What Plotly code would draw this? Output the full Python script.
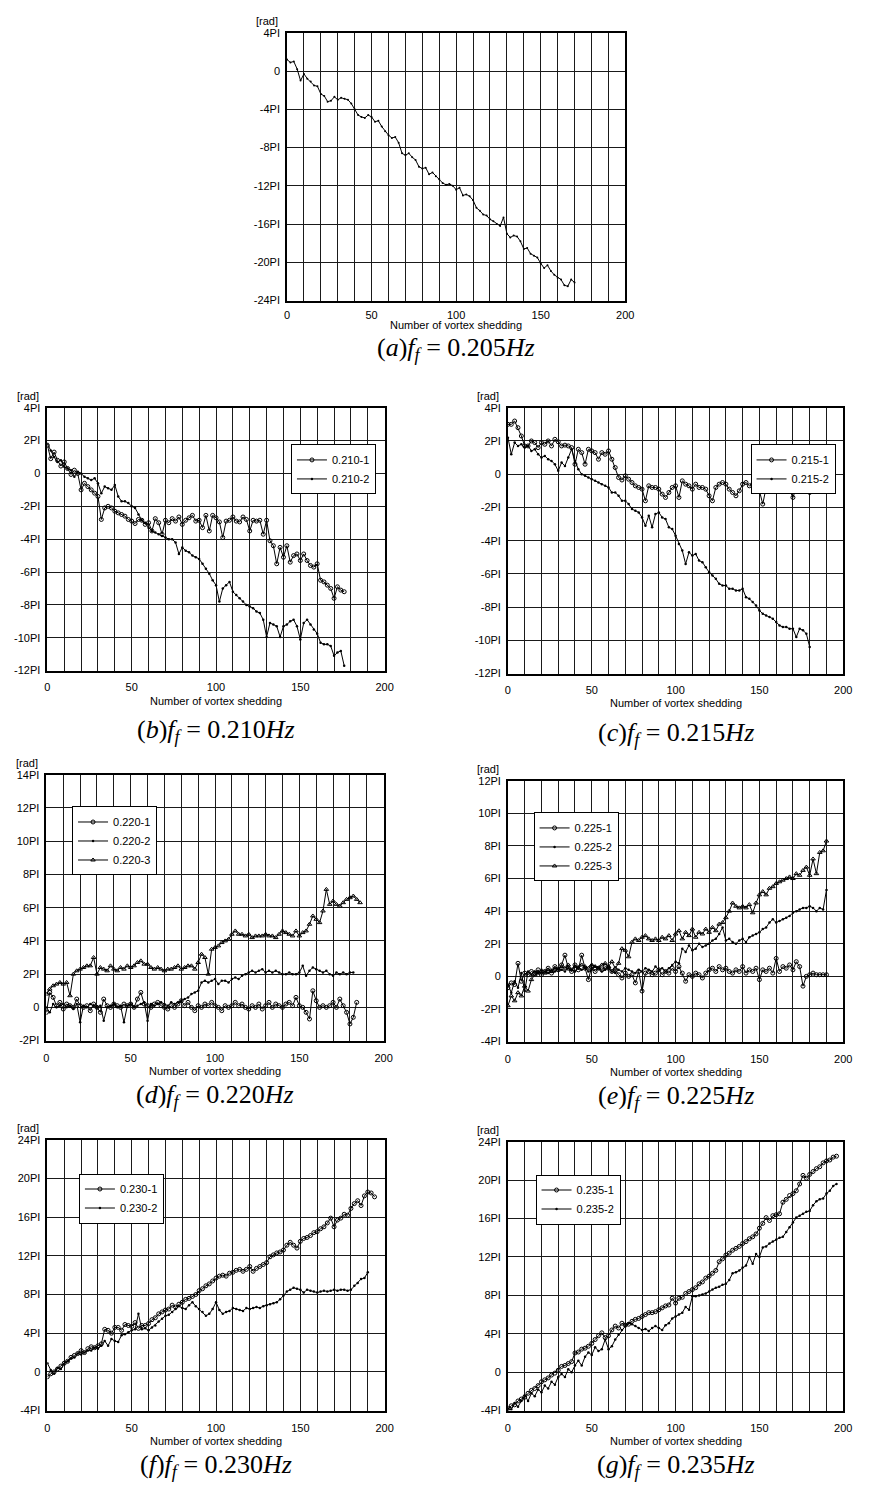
import plotly.graph_objects as go

W, H = 869, 1488

# ---------------- data (phase in units of PI, one value every 2 shedding events) ----------------
STEP = 2

a_y = [1.2, 0.9, 1.0, 0.2, -1.0, -0.3, -0.8, -1.1, -1.5, -1.6, -2.4, -2.6, -3.2, -3.1, -2.7, -3.0,
       -2.8, -2.9, -3.0, -3.4, -4.0, -4.6, -4.8, -4.9, -4.6, -4.8, -5.3, -5.2, -5.8, -6.3, -6.7, -7.0,
       -6.9, -7.5, -8.6, -8.8, -8.6, -9.0, -9.3, -10.0, -10.2, -10.1, -10.8, -10.6, -11.0, -11.3, -11.7,
       -11.9, -11.8, -12.0, -12.4, -12.2, -13.0, -12.9, -13.1, -13.5, -14.3, -14.6, -15.0, -15.1, -15.5,
       -15.7, -16.0, -16.2, -15.3, -17.0, -17.4, -17.2, -17.3, -17.8, -18.6, -18.5, -19.1, -19.3, -19.5,
       -20.1, -20.6, -20.3, -20.9, -21.3, -21.6, -21.8, -22.4, -22.5, -21.8, -22.1]

b1_y = [1.7, 0.9, 1.3, 0.8, 0.45, 0.7, 0.3, -0.06, 0.2, 0.0, -1.0, -0.6, -0.8, -1.0, -1.2, -1.4,
        -2.8, -2.1, -2.0, -2.1, -2.3, -2.4, -2.5, -2.6, -2.8, -2.9, -3.05, -2.8, -2.85, -3.1, -3.0,
        -3.5, -2.75, -3.0, -3.7, -2.85, -3.0, -2.75, -2.9, -2.65, -3.1, -2.85, -2.7, -2.55, -2.9, -2.85,
        -3.3, -2.55, -3.5, -2.55, -2.7, -2.95, -3.9, -2.9, -2.85, -2.65, -2.9, -2.95, -2.65, -2.8, -3.5,
        -2.85, -2.9, -2.85, -3.7, -2.85, -4.1, -4.4, -5.5, -4.5, -5.1, -4.4, -5.4, -5.0, -4.9, -5.3,
        -4.9, -5.3, -5.6, -5.7, -5.5, -6.5, -6.6, -6.8, -7.0, -7.6, -6.9, -7.1, -7.2]
b2_y = [1.8, 1.4, 1.0, 0.7, 0.8, 0.4, 0.3, 0.2, -0.2, 0.1, 0.0, -0.2, -0.3, -0.4, -0.3, -0.6,
        -1.2, -0.8, -0.9, -1.0, -0.7, -1.4, -1.7, -1.7, -1.8, -2.0, -2.1, -2.5, -2.85, -3.0, -3.3,
        -3.5, -3.6, -3.7, -3.8, -3.9, -4.0, -4.0, -4.2, -4.9, -4.5, -4.7, -4.8, -5.0, -5.1, -5.2, -5.5,
        -5.8, -6.1, -6.5, -6.8, -7.8, -7.0, -6.8, -6.6, -7.2, -7.4, -7.6, -7.8, -8.0, -8.1, -8.2, -8.4,
        -8.5, -8.9, -9.95, -9.1, -9.2, -9.3, -9.95, -9.3, -9.2, -9.0, -8.9, -9.3, -10.1, -9.1, -8.9,
        -9.2, -9.5, -9.75, -10.3, -10.4, -10.4, -10.5, -11.1, -10.9, -10.8, -11.7]

c1_y = [3.0, 3.0, 3.2, 2.8, 2.3, 1.7, 1.7, 2.0, 1.9, 1.6, 1.9, 1.8, 2.0, 1.7, 2.1, 1.95, 1.7, 1.75,
        1.7, 1.6, 0.6, 1.5, 1.3, 0.6, 1.5, 1.4, 1.3, 0.9, 1.3, 1.2, 1.4, 0.9, 0.4, -0.2, -0.35, -0.1,
        -0.3, -0.5, -0.7, -0.8, -0.9, -1.6, -0.7, -0.8, -0.8, -0.9, -1.2, -1.4, -1.1, -0.8, -0.7, -1.4,
        -0.4, -0.6, -0.7, -0.9, -0.6, -0.8, -0.8, -0.9, -1.3, -1.6, -0.8, -0.6, -0.5, -0.6, -0.9, -1.1,
        -1.3, -1.0, -0.6, -0.5, -0.7, -0.6, -0.65, -1.0, -1.8, -0.8, -0.9, -0.6, -0.7, -0.6, -0.7, -0.5,
        -1.0, -1.4, -0.8, -0.6, -0.7, -0.6, -1.1]
c2_y = [2.2, 1.2, 1.9, 1.7, 1.8, 1.6, 1.7, 1.4, 1.5, 1.2, 1.0, 1.1, 0.9, 0.8, 0.6, 0.2, 0.7, 0.5,
        1.0, 1.5, 0.8, 0.3, 0.0, -0.1, -0.2, -0.3, -0.4, -0.5, -0.6, -0.7, -0.8, -1.1, -1.1, -1.3,
        -1.6, -1.6, -1.8, -2.1, -2.2, -2.3, -2.6, -3.1, -2.5, -3.2, -2.4, -2.3, -2.6, -2.7, -3.2, -3.3,
        -3.7, -4.2, -4.6, -5.4, -4.7, -4.9, -4.8, -5.2, -5.3, -5.6, -5.9, -6.1, -6.3, -6.6, -6.7, -6.7,
        -6.9, -6.9, -7.0, -7.0, -6.9, -7.4, -7.5, -7.7, -7.9, -8.2, -8.4, -8.5, -8.6, -8.7, -8.9, -9.1,
        -9.2, -9.2, -9.3, -9.3, -9.8, -9.3, -9.4, -9.6, -10.4]

d1_y = [-0.3, 0.9, 0.6, 0.1, 0.3, -0.1, 0.2, 0.1, 0.0, 0.5, 0.1, 0.0, 0.1, -0.2, 0.2, 0.0, -0.3,
        0.5, 0.1, 0.0, 0.2, 0.1, 0.0, 0.2, 0.1, 0.2, 0.0, 0.5, 0.9, 0.2, 0.1, 0.0, 0.2, 0.3, 0.1, 0.0,
        -0.1, 0.1, 0.0, 0.2, 0.4, 0.1, 0.3, 0.0, -0.2, 0.1, 0.0, 0.2, 0.1, 0.3, 0.1, 0.0, -0.2, 0.1,
        0.0, 0.1, 0.3, 0.1, 0.2, 0.0, -0.1, 0.1, 0.0, 0.2, -0.1, 0.1, 0.3, 0.0, 0.2, 0.1, 0.0, 0.2,
        0.3, 0.1, 0.6, 0.1, 0.0, -0.3, -0.7, 1.0, 0.4, 0.0, 0.1, 0.0, 0.1, 0.3, 0.0, 0.5, 0.1, -0.3,
        -1.0, -0.6, 0.3]
d2_y = [0.0, -0.3, 0.2, 0.0, 0.1, 0.2, 0.0, 0.1, -0.1, 0.2, -0.9, 0.1, 0.0, 0.2, 0.1, 0.0, 0.1,
        -0.8, 0.0, 0.1, 0.2, 0.0, 0.1, -0.9, 0.1, 0.2, 0.0, 0.1, 0.2, 0.3, -0.8, 0.2, 0.1, 0.2, 0.3,
        0.2, 0.1, 0.3, 0.2, 0.3, 0.4, 0.5, 0.6, 0.8, 0.9, 1.0, 1.5, 1.6, 1.5, 1.6, 1.7, 1.4, 1.6, 1.6,
        1.5, 1.7, 1.8, 1.7, 1.9, 2.0, 2.1, 2.2, 2.1, 2.2, 2.3, 2.1, 2.2, 2.1, 2.2, 2.1, 2.0, 2.0, 2.1,
        2.0, 2.0, 2.1, 2.5, 1.9, 2.2, 2.4, 2.3, 2.2, 2.1, 2.2, 2.0, 1.9, 2.1, 2.0, 2.1, 2.0, 2.1, 2.1]
d3_y = [0.8, 1.1, 1.3, 1.4, 1.5, 1.4, 1.5, 0.7, 2.0, 2.2, 2.3, 2.4, 2.5, 2.5, 3.0, 2.0, 2.4, 2.3,
        2.2, 2.5, 2.3, 2.2, 2.4, 2.3, 2.5, 2.4, 2.5, 2.7, 2.8, 2.6, 2.6, 2.4, 2.3, 2.4, 2.3, 2.2, 2.3,
        2.3, 2.4, 2.5, 2.3, 2.4, 2.5, 2.5, 2.3, 2.7, 3.2, 3.0, 2.0, 3.5, 3.6, 3.7, 3.9, 4.0, 4.1, 4.4,
        4.6, 4.4, 4.4, 4.3, 4.4, 4.2, 4.3, 4.3, 4.3, 4.4, 4.3, 4.3, 4.2, 4.4, 4.6, 4.5, 4.4, 4.3, 4.6,
        4.3, 4.5, 4.6, 5.0, 5.5, 5.3, 5.1, 5.8, 7.1, 6.2, 6.4, 6.2, 6.1, 6.3, 6.5, 6.6, 6.7, 6.5, 6.3]

e1_y = [-0.7, -0.4, -0.5, 0.8, -0.3, 0.2, 0.1, 0.3, 0.2, 0.4, 0.1, 0.3, 0.5, 0.2, 0.6, 0.4, 0.7,
        1.3, 0.5, 0.3, 0.7, 0.4, 1.3, 0.5, -0.2, 0.6, 0.3, 0.5, 0.4, 0.6, 0.5, 0.3, 0.4, 0.1, -0.1,
        0.2, 0.0, 0.1, -0.4, 0.3, -0.9, 0.2, 0.3, 0.1, 0.2, 0.4, 0.1, 0.3, 0.2, 0.5, 0.3, 0.6, 0.2,
        -0.3, 0.1, 0.0, 0.2, 0.1, -0.1, 0.2, 0.4, 0.5, 0.3, 0.6, 0.4, 0.5, 0.3, 0.2, 0.4, 0.3, 0.6,
        0.2, 0.4, 0.3, 0.5, -0.2, 0.4, 0.3, 0.5, 0.2, 1.1, 0.3, 0.6, 0.5, 0.7, 0.4, 0.9, 0.6, -0.6,
        0.0, 0.1, 0.2, 0.1, 0.1, 0.1, 0.1]
e2_y = [-0.5, -1.0, -0.3, -0.7, 0.2, -0.9, 0.3, 0.1, 0.3, 0.2, 0.4, 0.3, 0.2, 0.4, 0.3, 0.5, 0.4,
        0.3, 0.5, 0.4, 0.3, 0.6, 0.4, 0.5, 0.3, 0.4, 0.6, 0.5, 0.3, 0.4, 0.5, 0.3, 0.2, 0.4, 0.3, 0.5,
        0.4, 0.3, 0.2, 0.4, 0.3, 0.5, 0.4, 0.3, 0.6, 0.4, 0.5, 0.3, 0.5, 0.7, 0.9, 0.8, 1.7, 1.5, 1.9,
        1.6, 1.7, 2.0, 1.8, 1.9, 2.0, 2.2, 2.3, 2.6, 3.0, 2.2, 2.3, 2.1, 2.0, 2.2, 2.3, 2.1, 2.4, 2.5,
        2.6, 2.7, 2.9, 3.0, 3.3, 3.5, 3.3, 3.4, 3.5, 3.6, 3.7, 3.9, 4.0, 4.1, 4.2, 4.2, 4.3, 4.2, 4.0,
        4.2, 4.1, 5.3]
e3_y = [-1.8, -1.2, -1.5, -1.0, -1.2, -0.6, -0.9, -0.2, 0.1, 0.2, 0.3, 0.2, 0.4, 0.3, 0.5, 0.4,
        0.6, 0.5, 0.7, 0.4, 0.6, 0.5, 0.7, 0.6, 0.5, 0.7, 0.6, 0.5, 0.7, 0.8, 0.6, 0.9, 0.5, 0.8, 1.7,
        1.6, 1.2, 2.1, 2.3, 2.2, 2.4, 2.5, 2.3, 2.2, 2.3, 2.2, 2.4, 2.3, 2.5, 2.2, 2.6, 2.8, 2.3, 2.7,
        2.5, 2.9, 2.4, 2.7, 2.6, 2.9, 2.7, 3.0, 2.8, 3.2, 3.3, 3.6, 4.0, 4.5, 4.3, 4.2, 4.3, 4.2, 4.4,
        3.9, 4.5, 5.0, 5.2, 5.0, 5.4, 5.5, 5.7, 5.8, 5.9, 6.0, 6.1, 6.0, 6.3, 6.2, 6.5, 6.7, 6.2, 7.2,
        6.3, 7.6, 7.7, 8.3]

f1_y = [-0.5, -0.2, 0.0, 0.3, 0.6, 0.9, 1.1, 1.5, 1.7, 1.9, 2.2, 2.0, 2.4, 2.6, 2.5, 2.7, 2.9, 4.4,
        4.3, 4.0, 4.6, 4.6, 4.3, 4.9, 4.8, 4.7, 5.1, 4.5, 4.8, 4.8, 5.0, 5.4, 5.6, 6.0, 6.2, 6.4, 6.5,
        6.9, 6.7, 7.0, 7.2, 7.5, 7.6, 7.8, 8.0, 8.4, 8.6, 8.9, 9.1, 9.4, 9.7, 9.9, 10.0, 9.9, 10.2,
        10.3, 10.5, 10.6, 10.4, 10.6, 10.9, 10.4, 10.7, 10.9, 11.1, 11.3, 11.9, 12.1, 12.3, 12.4, 12.6,
        13.1, 13.4, 13.1, 12.8, 13.5, 13.8, 13.9, 14.1, 14.4, 14.5, 14.8, 15.0, 15.4, 15.9, 15.0, 15.7,
        15.9, 16.3, 16.2, 16.9, 17.4, 17.7, 17.2, 18.2, 18.6, 18.5, 18.1]
f2_y = [0.9, 0.2, -0.2, 0.4, 0.3, 0.85, 1.1, 1.4, 1.5, 1.9, 1.8, 2.0, 2.2, 2.2, 2.5, 2.4, 2.7, 3.2,
        2.7, 3.4, 3.2, 3.1, 3.8, 3.9, 4.1, 4.3, 4.4, 6.0, 4.4, 4.5, 4.3, 4.6, 4.8, 5.2, 5.5, 5.8, 5.9,
        6.2, 6.5, 6.8, 6.6, 6.5, 6.9, 7.2, 6.8, 6.5, 6.2, 5.8, 6.0, 6.5, 7.2, 6.4, 6.0, 6.2, 6.3, 6.6,
        6.5, 6.4, 6.3, 6.6, 6.5, 6.6, 6.7, 6.6, 6.8, 6.9, 7.0, 7.1, 7.2, 7.5, 7.9, 8.3, 8.5, 8.7, 8.6,
        8.5, 8.2, 8.5, 8.4, 8.3, 8.2, 8.3, 8.4, 8.3, 8.4, 8.5, 8.4, 8.5, 8.5, 8.4, 8.5, 8.9, 9.2, 9.6,
        9.7, 10.3]

g1_y = [-3.8, -3.5, -3.4, -3.0, -2.8, -2.6, -2.2, -1.9, -1.7, -1.4, -1.0, -0.8, -0.6, -0.3, -0.1,
        0.2, 0.6, 0.7, 0.9, 1.1, 2.0, 2.1, 2.4, 2.5, 2.7, 3.0, 3.4, 3.8, 4.1, 3.6, 3.8, 4.4, 4.8, 4.6,
        5.1, 4.9, 5.0, 5.3, 5.5, 5.6, 5.8, 6.0, 6.2, 6.2, 6.3, 6.5, 6.7, 6.9, 7.0, 7.7, 7.2, 7.7, 7.8,
        8.2, 8.4, 8.6, 8.8, 9.2, 9.4, 9.8, 10.0, 10.3, 10.6, 11.5, 11.8, 12.2, 12.4, 12.7, 12.9, 13.1,
        13.4, 13.6, 13.9, 14.1, 14.4, 15.0, 15.5, 16.1, 15.8, 16.3, 16.4, 16.5, 17.7, 18.0, 18.4, 18.6,
        18.9, 19.6, 20.5, 20.2, 20.6, 20.9, 21.2, 21.4, 21.8, 22.0, 22.1, 22.4, 22.5]
g2_y = [-3.8, -3.9, -3.2, -3.6, -3.0, -2.4, -3.0, -2.2, -2.5, -1.8, -2.1, -1.4, -1.7, -1.0, -1.3,
        -0.5, -0.2, -0.5, 0.3, 0.0, 0.7, 1.2, 0.7, 1.6, 2.05, 1.8, 2.6, 2.2, 2.4, 3.4, 2.4, 2.7, 3.4,
        3.9, 4.4, 4.8, 5.1, 5.0, 4.8, 4.6, 4.4, 4.5, 4.3, 4.6, 4.8, 4.6, 4.4, 4.9, 5.1, 5.6, 5.8, 6.0,
        6.2, 6.8, 6.5, 7.9, 7.9, 8.0, 8.1, 8.2, 8.4, 8.6, 8.8, 8.9, 9.1, 9.2, 9.6, 10.3, 10.4, 10.6,
        10.9, 11.1, 12.0, 11.3, 12.3, 12.0, 13.0, 13.1, 13.4, 13.6, 13.8, 14.0, 14.1, 14.6, 15.1, 15.6,
        16.1, 16.3, 16.5, 16.7, 16.8, 17.4, 17.8, 18.0, 18.1, 18.6, 18.9, 19.4, 19.6]

X_TICKS = [0, 50, 100, 150, 200]

# ---------------- panel layout (pixel boxes: left, right, top, bottom) ----------------
PANELS = [
    dict(key="a", box=(288, 631, 27, 297), yr=(-24, 4), dy=4, cap="a", hz="0.205",
         series=[("", a_y, None)], legend=None, tick_sd=3, ttl=25, cpt=49),
    dict(key="b", box=(45, 387, 405, 670), yr=(-12, 4), dy=2, cap="b", hz="0.210",
         series=[("0.210-1", b1_y, "o"), ("0.210-2", b2_y, ".")], legend=(292, 442),
         tick_sd=5, ttl=31, cpt=61),
    dict(key="c", box=(512, 852, 405, 673), yr=(-12, 4), dy=2, cap="c", hz="0.215",
         series=[("0.215-1", c1_y, "o"), ("0.215-2", c2_y, ".")], legend=(758, 442),
         tick_sd=5, ttl=30, cpt=61),
    dict(key="d", box=(44, 386, 775, 1043), yr=(-2, 14), dy=2, cap="d", hz="0.220",
         series=[("0.220-1", d1_y, "o"), ("0.220-2", d2_y, "."), ("0.220-3", d3_y, "^")],
         legend=(70, 807), tick_sd=6, ttl=31, cpt=56),
    dict(key="e", box=(512, 852, 781, 1044), yr=(-4, 12), dy=2, cap="e", hz="0.225",
         series=[("0.225-1", e1_y, "o"), ("0.225-2", e2_y, "."), ("0.225-3", e3_y, "^")],
         legend=(538, 813), tick_sd=6, ttl=31, cpt=56),
    dict(key="f", box=(45, 387, 1143, 1416), yr=(-4, 24), dy=4, cap="f", hz="0.230",
         series=[("0.230-1", f1_y, "o"), ("0.230-2", f2_y, ".")], legend=(77, 1177),
         tick_sd=6, ttl=31, cpt=56),
    dict(key="g", box=(512, 852, 1145, 1416), yr=(-4, 24), dy=4, cap="g", hz="0.235",
         series=[("0.235-1", g1_y, "o"), ("0.235-2", g2_y, ".")], legend=(540, 1178),
         tick_sd=6, ttl=31, cpt=56),
]

MARK = {
    "o": dict(symbol="circle-open", size=4, color="black", line=dict(width=1, color="black")),
    ".": dict(symbol="circle", size=2.5, color="black"),
    "^": dict(symbol="triangle-up-open", size=4, color="black", line=dict(width=1, color="black")),
    None: dict(symbol="circle", size=2, color="black"),
}

SANS = "Liberation Sans, Arial, sans-serif"
TICKFONT = dict(family=SANS, size=11, color="black")
GRID = "#1a1a1a"

fig = go.Figure()
layout = dict(width=W, height=H, margin=dict(l=0, r=0, t=0, b=0),
              paper_bgcolor="white", plot_bgcolor="white", showlegend=True)
annotations = []


def fx(px):
    return px / W


def fy(py):
    return 1 - py / H


for i, p in enumerate(PANELS, start=1):
    sfx = "" if i == 1 else str(i)
    l, r, t, b = p["box"]
    ylo, yhi = p["yr"]
    yvals = list(range(ylo, yhi + 1, p["dy"]))
    ytext = ["0" if v == 0 else f"{v}PI" for v in yvals]
    layout["xaxis" + sfx] = dict(
        domain=[fx(l), fx(r)], range=[0, 200], anchor="y" + sfx,
        tickmode="array", tickvals=X_TICKS, ticktext=[str(v) for v in X_TICKS], ticks="",
        showgrid=True, gridcolor=GRID, gridwidth=1.2, zeroline=False,
        minor=dict(dtick=10, tick0=0, showgrid=True, gridcolor=GRID, gridwidth=1.2, ticks=""),
        showline=True, mirror=True, linecolor="black", linewidth=1.6,
        tickfont=TICKFONT, ticklabelstandoff=p["tick_sd"], fixedrange=True)
    layout["yaxis" + sfx] = dict(
        domain=[fy(b), fy(t)], range=[ylo, yhi], anchor="x" + sfx,
        tickmode="array", tickvals=yvals, ticktext=ytext, ticks="",
        showgrid=True, gridcolor=GRID, gridwidth=1.2, zeroline=False,
        showline=True, mirror=True, linecolor="black", linewidth=1.6,
        tickfont=TICKFONT, ticklabelstandoff=3, fixedrange=True)

    leg_name = None
    if p["legend"] is not None:
        leg_name = "legend" if i == 2 else f"legend{i}"
        lx, ly = p["legend"]
        layout[leg_name] = dict(
            x=fx(lx), y=fy(ly), xanchor="left", yanchor="top",
            bgcolor="white", bordercolor="black", borderwidth=1,
            font=dict(family=SANS, size=11, color="black"),
            tracegroupgap=0, itemwidth=30, traceorder="normal")

    for name, ys, mk in p["series"]:
        xs = [k * STEP for k in range(len(ys))]
        tr = dict(x=xs, y=ys, mode="lines+markers", name=name,
                  line=dict(color="black", width=1), marker=MARK[mk],
                  xaxis="x" + sfx, yaxis="y" + sfx,
                  showlegend=leg_name is not None)
        if leg_name is not None:
            tr["legend"] = leg_name
        fig.add_trace(go.Scatter(**tr))

    cx = (l + r) / 2
    annotations.append(dict(x=fx(l - 20), y=fy(t - 12), xref="paper", yref="paper",
                            text="[rad]", showarrow=False, xanchor="center", yanchor="middle",
                            font=TICKFONT))
    annotations.append(dict(x=fx(cx), y=fy(b + p["ttl"]), xref="paper", yref="paper",
                            text="Number of vortex shedding", showarrow=False,
                            xanchor="center", yanchor="middle", font=TICKFONT))
    cap = (f"(<i>{p['cap']}</i>)<i>f</i><sub><i>f</i></sub> = {p['hz']}<i>Hz</i>")
    annotations.append(dict(x=fx(cx), y=fy(b + p["cpt"]), xref="paper", yref="paper",
                            text=cap, showarrow=False, xanchor="center", yanchor="middle",
                            font=dict(family="Liberation Serif, Times New Roman, serif",
                                      size=26, color="black")))

layout["annotations"] = annotations
fig.update_layout(**layout)
fig.write_html("out.html")
